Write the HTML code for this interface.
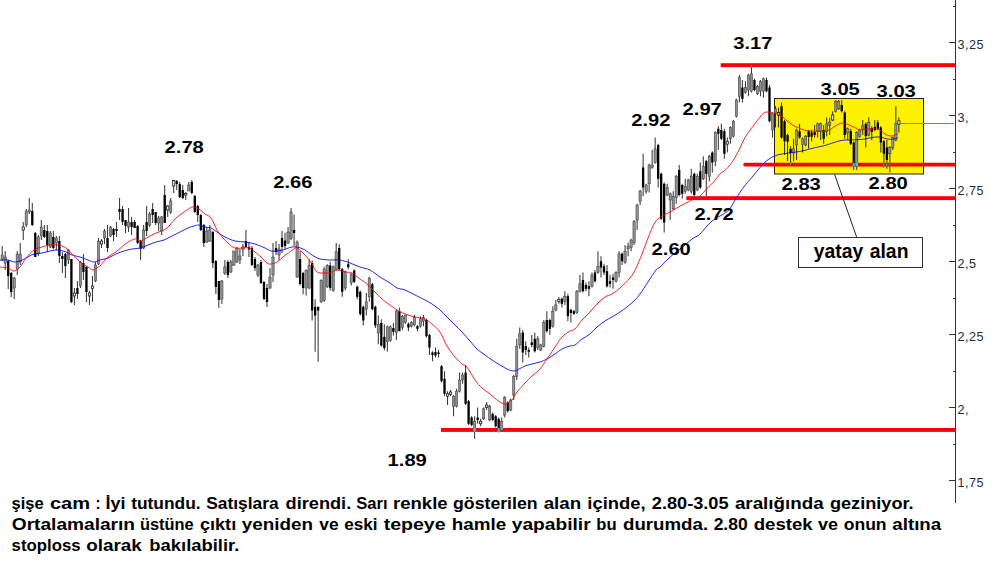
<!DOCTYPE html>
<html><head><meta charset="utf-8"><title>chart</title>
<style>
html,body{margin:0;padding:0;background:#fff;}
body{width:1000px;height:571px;overflow:hidden;position:relative;font-family:"Liberation Sans",sans-serif;}
svg{position:absolute;left:0;top:0;}
text{font-family:"Liberation Sans",sans-serif;}
.lab{font-weight:bold;font-size:16px;fill:#000;}
.ax{font-size:12.6px;fill:#1c2a44;}
.para{font-weight:bold;font-size:17px;fill:#000;}
</style></head><body>
<svg width="1000" height="571" viewBox="0 0 1000 571">
<rect width="1000" height="571" fill="#fff"/>

<g stroke="#333" stroke-width="1" shape-rendering="crispEdges">
<path d="M955.5 0V503"/>
<path d="M949 42.5H955.5"/>
<path d="M949 115.5H955.5"/>
<path d="M949 188.5H955.5"/>
<path d="M949 261.5H955.5"/>
<path d="M949 334.5H955.5"/>
<path d="M949 407.5H955.5"/>
<path d="M949 480.5H955.5"/>
<path d="M953 6.2H955.5"/>
<path d="M953 79.2H955.5"/>
<path d="M953 152.2H955.5"/>
<path d="M953 225.2H955.5"/>
<path d="M953 298.2H955.5"/>
<path d="M953 371.2H955.5"/>
<path d="M953 444.2H955.5"/>
</g>
<text class="ax" x="957.6" y="48.5" letter-spacing="0.5">3,25</text>
<text class="ax" x="957.6" y="121.5" letter-spacing="0.5">3,</text>
<text class="ax" x="957.6" y="194.5" letter-spacing="0.5">2,75</text>
<text class="ax" x="957.6" y="267.5" letter-spacing="0.5">2,5</text>
<text class="ax" x="957.6" y="340.5" letter-spacing="0.5">2,25</text>
<text class="ax" x="957.6" y="413.5" letter-spacing="0.5">2,</text>
<text class="ax" x="957.6" y="486.5" letter-spacing="0.5">1,75</text>
<rect x="774.5" y="98.5" width="149" height="75.5" fill="#fff200" stroke="#222" stroke-width="1"/>
<g fill="#ff0000">
<rect x="720.7" y="63.2" width="234.8" height="3.9"/>
<rect x="743.3" y="162.7" width="212.2" height="3.7" rx="1.5"/>
<rect x="686.3" y="196.2" width="269.2" height="3.9"/>
<rect x="441" y="428" width="514.5" height="3.9"/>
</g>
<g>
<path d="M2.2 246.0V261.0" stroke="#000" stroke-opacity="0.78" stroke-width="1.05"/>
<rect x="1.05" y="255.0" width="2.3" height="5.0" fill="#8e8e8e" stroke="#3a3a3a" stroke-width="0.5"/>
<path d="M5.21 251.0V270.0" stroke="#000" stroke-opacity="0.78" stroke-width="1.05"/>
<rect x="4.06" y="257.0" width="2.3" height="6.0" fill="#8e8e8e" stroke="#3a3a3a" stroke-width="0.5"/>
<path d="M8.22 260.0V289.0" stroke="#000" stroke-opacity="0.78" stroke-width="1.05"/>
<rect x="7.07" y="261.0" width="2.3" height="15.0" fill="#000"/>
<path d="M11.23 272.0V297.0" stroke="#000" stroke-opacity="0.78" stroke-width="1.05"/>
<rect x="10.08" y="273.0" width="2.3" height="19.0" fill="#000"/>
<path d="M14.24 277.0V299.0" stroke="#000" stroke-opacity="0.78" stroke-width="1.05"/>
<rect x="13.09" y="278.0" width="2.3" height="10.0" fill="#8e8e8e" stroke="#3a3a3a" stroke-width="0.5"/>
<path d="M17.25 251.0V275.0" stroke="#000" stroke-opacity="0.78" stroke-width="1.05"/>
<rect x="16.1" y="254.0" width="2.3" height="15.0" fill="#8e8e8e" stroke="#3a3a3a" stroke-width="0.5"/>
<path d="M20.25 243.0V265.0" stroke="#000" stroke-opacity="0.78" stroke-width="1.05"/>
<rect x="19.1" y="254.0" width="2.3" height="8.0" fill="#8e8e8e" stroke="#3a3a3a" stroke-width="0.5"/>
<path d="M23.26 222.0V240.0" stroke="#000" stroke-opacity="0.78" stroke-width="1.05"/>
<rect x="22.11" y="227.0" width="2.3" height="3.0" fill="#ddd" stroke="#111" stroke-width="0.7"/>
<path d="M26.27 209.0V227.0" stroke="#000" stroke-opacity="0.78" stroke-width="1.05"/>
<rect x="25.12" y="211.0" width="2.3" height="14.0" fill="#8e8e8e" stroke="#3a3a3a" stroke-width="0.5"/>
<path d="M29.28 198.0V214.0" stroke="#000" stroke-opacity="0.78" stroke-width="1.05"/>
<rect x="28.13" y="210.0" width="2.3" height="2.0" fill="#8e8e8e" stroke="#3a3a3a" stroke-width="0.5"/>
<path d="M32.29 203.0V226.0" stroke="#000" stroke-opacity="0.78" stroke-width="1.05"/>
<rect x="31.14" y="211.0" width="2.3" height="14.0" fill="#000"/>
<path d="M35.3 232.0V257.0" stroke="#000" stroke-opacity="0.78" stroke-width="1.05"/>
<rect x="34.15" y="233.0" width="2.3" height="24.0" fill="#000"/>
<path d="M38.31 235.0V256.0" stroke="#000" stroke-opacity="0.78" stroke-width="1.05"/>
<rect x="37.16" y="237.0" width="2.3" height="17.0" fill="#8e8e8e" stroke="#3a3a3a" stroke-width="0.5"/>
<path d="M41.32 220.0V240.0" stroke="#000" stroke-opacity="0.78" stroke-width="1.05"/>
<rect x="40.17" y="227.0" width="2.3" height="9.0" fill="#8e8e8e" stroke="#3a3a3a" stroke-width="0.5"/>
<path d="M44.33 225.0V238.0" stroke="#000" stroke-opacity="0.78" stroke-width="1.05"/>
<rect x="43.18" y="230.0" width="2.3" height="7.0" fill="#000"/>
<path d="M47.33 225.0V252.0" stroke="#000" stroke-opacity="0.78" stroke-width="1.05"/>
<rect x="46.18" y="231.0" width="2.3" height="14.0" fill="#000"/>
<path d="M50.34 231.0V248.0" stroke="#000" stroke-opacity="0.78" stroke-width="1.05"/>
<rect x="49.19" y="233.0" width="2.3" height="14.0" fill="#8e8e8e" stroke="#3a3a3a" stroke-width="0.5"/>
<path d="M53.35 231.0V249.0" stroke="#000" stroke-opacity="0.78" stroke-width="1.05"/>
<rect x="52.2" y="237.0" width="2.3" height="11.0" fill="#000"/>
<path d="M56.36 236.0V250.0" stroke="#000" stroke-opacity="0.78" stroke-width="1.05"/>
<rect x="55.21" y="238.0" width="2.3" height="5.0" fill="#8e8e8e" stroke="#3a3a3a" stroke-width="0.5"/>
<path d="M59.37 236.0V263.0" stroke="#000" stroke-opacity="0.78" stroke-width="1.05"/>
<rect x="58.22" y="241.0" width="2.3" height="15.0" fill="#000"/>
<path d="M62.38 252.0V273.0" stroke="#000" stroke-opacity="0.78" stroke-width="1.05"/>
<rect x="61.23" y="256.0" width="2.3" height="3.0" fill="#000"/>
<path d="M65.39 253.0V278.0" stroke="#000" stroke-opacity="0.78" stroke-width="1.05"/>
<rect x="64.24" y="254.0" width="2.3" height="12.0" fill="#000"/>
<path d="M68.4 249.0V264.0" stroke="#000" stroke-opacity="0.78" stroke-width="1.05"/>
<rect x="67.25" y="250.0" width="2.3" height="10.0" fill="#8e8e8e" stroke="#3a3a3a" stroke-width="0.5"/>
<path d="M71.41 259.0V303.0" stroke="#000" stroke-opacity="0.78" stroke-width="1.05"/>
<rect x="70.26" y="259.0" width="2.3" height="43.0" fill="#000"/>
<path d="M74.42 288.0V305.0" stroke="#000" stroke-opacity="0.78" stroke-width="1.05"/>
<rect x="73.27" y="293.0" width="2.3" height="3.0" fill="#ddd" stroke="#111" stroke-width="0.7"/>
<path d="M77.42 281.0V299.0" stroke="#000" stroke-opacity="0.78" stroke-width="1.05"/>
<rect x="76.27" y="288.0" width="2.3" height="6.0" fill="#000"/>
<path d="M80.43 261.0V288.0" stroke="#000" stroke-opacity="0.78" stroke-width="1.05"/>
<rect x="79.28" y="262.0" width="2.3" height="24.0" fill="#8e8e8e" stroke="#3a3a3a" stroke-width="0.5"/>
<path d="M83.44 254.0V280.0" stroke="#000" stroke-opacity="0.78" stroke-width="1.05"/>
<rect x="82.29" y="263.0" width="2.3" height="9.0" fill="#000"/>
<path d="M86.45 266.0V302.0" stroke="#000" stroke-opacity="0.78" stroke-width="1.05"/>
<rect x="85.3" y="267.0" width="2.3" height="25.0" fill="#000"/>
<path d="M89.46 291.0V305.0" stroke="#000" stroke-opacity="0.78" stroke-width="1.05"/>
<rect x="88.31" y="293.0" width="2.3" height="3.0" fill="#ddd" stroke="#111" stroke-width="0.7"/>
<path d="M92.47 276.0V302.0" stroke="#000" stroke-opacity="0.78" stroke-width="1.05"/>
<rect x="91.32" y="286.0" width="2.3" height="2.4" fill="#ddd" stroke="#111" stroke-width="0.7"/>
<path d="M95.48 262.0V282.0" stroke="#000" stroke-opacity="0.78" stroke-width="1.05"/>
<rect x="94.33" y="265.0" width="2.3" height="16.0" fill="#8e8e8e" stroke="#3a3a3a" stroke-width="0.5"/>
<path d="M98.49 238.0V265.0" stroke="#000" stroke-opacity="0.78" stroke-width="1.05"/>
<rect x="97.34" y="241.0" width="2.3" height="23.0" fill="#8e8e8e" stroke="#3a3a3a" stroke-width="0.5"/>
<path d="M101.5 239.0V248.0" stroke="#000" stroke-opacity="0.78" stroke-width="1.05"/>
<rect x="100.35" y="241.0" width="2.3" height="3.0" fill="#ddd" stroke="#111" stroke-width="0.7"/>
<path d="M104.51 229.0V244.0" stroke="#000" stroke-opacity="0.78" stroke-width="1.05"/>
<rect x="103.36" y="231.0" width="2.3" height="7.0" fill="#8e8e8e" stroke="#3a3a3a" stroke-width="0.5"/>
<path d="M107.51 225.0V252.0" stroke="#000" stroke-opacity="0.78" stroke-width="1.05"/>
<rect x="106.36" y="238.0" width="2.3" height="10.0" fill="#000"/>
<path d="M110.52 226.0V237.0" stroke="#000" stroke-opacity="0.78" stroke-width="1.05"/>
<rect x="109.37" y="227.0" width="2.3" height="9.0" fill="#8e8e8e" stroke="#3a3a3a" stroke-width="0.5"/>
<path d="M113.53 228.0V241.0" stroke="#000" stroke-opacity="0.78" stroke-width="1.05"/>
<rect x="112.38" y="229.0" width="2.3" height="6.0" fill="#000"/>
<path d="M116.54 222.0V237.0" stroke="#000" stroke-opacity="0.78" stroke-width="1.05"/>
<rect x="115.39" y="229.0" width="2.3" height="2.0" fill="#000"/>
<path d="M119.55 198.0V220.0" stroke="#000" stroke-opacity="0.78" stroke-width="1.05"/>
<rect x="118.4" y="209.0" width="2.3" height="3.0" fill="#000"/>
<path d="M122.56 206.0V225.0" stroke="#000" stroke-opacity="0.78" stroke-width="1.05"/>
<rect x="121.41" y="209.0" width="2.3" height="13.0" fill="#000"/>
<path d="M125.57 220.0V233.0" stroke="#000" stroke-opacity="0.78" stroke-width="1.05"/>
<rect x="124.42" y="220.0" width="2.3" height="6.0" fill="#000"/>
<path d="M128.58 208.0V232.0" stroke="#000" stroke-opacity="0.78" stroke-width="1.05"/>
<rect x="127.43" y="222.0" width="2.3" height="5.0" fill="#8e8e8e" stroke="#3a3a3a" stroke-width="0.5"/>
<path d="M131.59 217.0V235.0" stroke="#000" stroke-opacity="0.78" stroke-width="1.05"/>
<rect x="130.44" y="222.0" width="2.3" height="5.0" fill="#000"/>
<path d="M134.6 220.0V228.0" stroke="#000" stroke-opacity="0.78" stroke-width="1.05"/>
<rect x="133.45" y="222.0" width="2.3" height="6.0" fill="#000"/>
<path d="M137.61 225.0V244.0" stroke="#000" stroke-opacity="0.78" stroke-width="1.05"/>
<rect x="136.46" y="226.0" width="2.3" height="17.0" fill="#000"/>
<path d="M140.61 240.0V260.0" stroke="#000" stroke-opacity="0.78" stroke-width="1.05"/>
<rect x="139.46" y="241.0" width="2.3" height="8.0" fill="#000"/>
<path d="M143.62 225.0V249.0" stroke="#000" stroke-opacity="0.78" stroke-width="1.05"/>
<rect x="142.47" y="230.0" width="2.3" height="18.0" fill="#8e8e8e" stroke="#3a3a3a" stroke-width="0.5"/>
<path d="M146.63 206.0V236.0" stroke="#000" stroke-opacity="0.78" stroke-width="1.05"/>
<rect x="145.48" y="222.0" width="2.3" height="9.0" fill="#000"/>
<path d="M149.64 212.0V227.0" stroke="#000" stroke-opacity="0.78" stroke-width="1.05"/>
<rect x="148.49" y="214.0" width="2.3" height="11.0" fill="#8e8e8e" stroke="#3a3a3a" stroke-width="0.5"/>
<path d="M152.65 203.0V223.0" stroke="#000" stroke-opacity="0.78" stroke-width="1.05"/>
<rect x="151.5" y="209.0" width="2.3" height="6.0" fill="#000"/>
<path d="M155.66 212.0V225.0" stroke="#000" stroke-opacity="0.78" stroke-width="1.05"/>
<rect x="154.51" y="212.0" width="2.3" height="11.0" fill="#000"/>
<path d="M158.67 216.0V231.0" stroke="#000" stroke-opacity="0.78" stroke-width="1.05"/>
<rect x="157.52" y="218.0" width="2.3" height="5.0" fill="#8e8e8e" stroke="#3a3a3a" stroke-width="0.5"/>
<path d="M161.68 216.0V235.0" stroke="#000" stroke-opacity="0.78" stroke-width="1.05"/>
<rect x="160.53" y="217.0" width="2.3" height="14.0" fill="#8e8e8e" stroke="#3a3a3a" stroke-width="0.5"/>
<path d="M164.69 185.0V223.0" stroke="#000" stroke-opacity="0.78" stroke-width="1.05"/>
<rect x="163.54" y="195.0" width="2.3" height="28.0" fill="#000"/>
<path d="M167.7 205.0V217.0" stroke="#000" stroke-opacity="0.78" stroke-width="1.05"/>
<rect x="166.55" y="206.0" width="2.3" height="4.0" fill="#ddd" stroke="#111" stroke-width="0.7"/>
<path d="M170.7 198.0V214.0" stroke="#000" stroke-opacity="0.78" stroke-width="1.05"/>
<rect x="169.55" y="201.0" width="2.3" height="11.0" fill="#8e8e8e" stroke="#3a3a3a" stroke-width="0.5"/>
<path d="M173.71 180.0V193.0" stroke="#000" stroke-opacity="0.78" stroke-width="1.05"/>
<rect x="172.56" y="180.6" width="2.3" height="5.4" fill="#ddd" stroke="#111" stroke-width="0.7"/>
<path d="M176.72 180.0V190.0" stroke="#000" stroke-opacity="0.78" stroke-width="1.05"/>
<rect x="175.57" y="181.0" width="2.3" height="3.0" fill="#000"/>
<path d="M179.73 182.0V198.0" stroke="#000" stroke-opacity="0.78" stroke-width="1.05"/>
<rect x="178.58" y="184.0" width="2.3" height="13.0" fill="#000"/>
<path d="M182.74 185.0V199.0" stroke="#000" stroke-opacity="0.78" stroke-width="1.05"/>
<rect x="181.59" y="190.0" width="2.3" height="8.0" fill="#000"/>
<path d="M185.75 192.0V200.0" stroke="#000" stroke-opacity="0.78" stroke-width="1.05"/>
<rect x="184.6" y="193.4" width="2.3" height="1.6" fill="#ddd" stroke="#111" stroke-width="0.7"/>
<path d="M188.76 182.0V191.0" stroke="#000" stroke-opacity="0.78" stroke-width="1.05"/>
<rect x="187.61" y="185.0" width="2.3" height="6.0" fill="#8e8e8e" stroke="#3a3a3a" stroke-width="0.5"/>
<path d="M191.77 180.0V194.0" stroke="#000" stroke-opacity="0.78" stroke-width="1.05"/>
<rect x="190.62" y="182.0" width="2.3" height="11.0" fill="#000"/>
<path d="M194.78 195.0V213.0" stroke="#000" stroke-opacity="0.78" stroke-width="1.05"/>
<rect x="193.63" y="196.0" width="2.3" height="16.0" fill="#000"/>
<path d="M197.78 205.0V222.0" stroke="#000" stroke-opacity="0.78" stroke-width="1.05"/>
<rect x="196.63" y="206.0" width="2.3" height="9.0" fill="#000"/>
<path d="M200.79 214.0V231.0" stroke="#000" stroke-opacity="0.78" stroke-width="1.05"/>
<rect x="199.64" y="215.0" width="2.3" height="15.0" fill="#000"/>
<path d="M203.8 224.0V247.0" stroke="#000" stroke-opacity="0.78" stroke-width="1.05"/>
<rect x="202.65" y="225.0" width="2.3" height="18.0" fill="#000"/>
<path d="M206.81 227.0V243.0" stroke="#000" stroke-opacity="0.78" stroke-width="1.05"/>
<rect x="205.66" y="231.0" width="2.3" height="11.0" fill="#8e8e8e" stroke="#3a3a3a" stroke-width="0.5"/>
<path d="M209.82 225.0V242.0" stroke="#000" stroke-opacity="0.78" stroke-width="1.05"/>
<rect x="208.67" y="230.0" width="2.3" height="11.0" fill="#8e8e8e" stroke="#3a3a3a" stroke-width="0.5"/>
<path d="M212.83 231.0V268.0" stroke="#000" stroke-opacity="0.78" stroke-width="1.05"/>
<rect x="211.68" y="232.0" width="2.3" height="31.0" fill="#000"/>
<path d="M215.84 260.0V294.0" stroke="#000" stroke-opacity="0.78" stroke-width="1.05"/>
<rect x="214.69" y="261.0" width="2.3" height="26.0" fill="#000"/>
<path d="M218.85 281.0V308.0" stroke="#000" stroke-opacity="0.78" stroke-width="1.05"/>
<rect x="217.7" y="281.0" width="2.3" height="19.0" fill="#000"/>
<path d="M221.86 280.0V304.0" stroke="#000" stroke-opacity="0.78" stroke-width="1.05"/>
<rect x="220.71" y="281.0" width="2.3" height="18.0" fill="#8e8e8e" stroke="#3a3a3a" stroke-width="0.5"/>
<path d="M224.87 260.0V275.0" stroke="#000" stroke-opacity="0.78" stroke-width="1.05"/>
<rect x="223.72" y="267.0" width="2.3" height="6.0" fill="#8e8e8e" stroke="#3a3a3a" stroke-width="0.5"/>
<path d="M227.87 260.0V278.0" stroke="#000" stroke-opacity="0.78" stroke-width="1.05"/>
<rect x="226.72" y="262.0" width="2.3" height="13.0" fill="#000"/>
<path d="M230.88 260.0V273.0" stroke="#000" stroke-opacity="0.78" stroke-width="1.05"/>
<rect x="229.73" y="262.0" width="2.3" height="10.0" fill="#8e8e8e" stroke="#3a3a3a" stroke-width="0.5"/>
<path d="M233.89 251.0V266.0" stroke="#000" stroke-opacity="0.78" stroke-width="1.05"/>
<rect x="232.74" y="251.0" width="2.3" height="14.0" fill="#8e8e8e" stroke="#3a3a3a" stroke-width="0.5"/>
<path d="M236.9 247.0V263.0" stroke="#000" stroke-opacity="0.78" stroke-width="1.05"/>
<rect x="235.75" y="248.0" width="2.3" height="14.0" fill="#8e8e8e" stroke="#3a3a3a" stroke-width="0.5"/>
<path d="M239.91 249.0V264.0" stroke="#000" stroke-opacity="0.78" stroke-width="1.05"/>
<rect x="238.76" y="256.0" width="2.3" height="4.0" fill="#8e8e8e" stroke="#3a3a3a" stroke-width="0.5"/>
<path d="M242.92 244.0V256.0" stroke="#000" stroke-opacity="0.78" stroke-width="1.05"/>
<rect x="241.77" y="247.0" width="2.3" height="2.0" fill="#ddd" stroke="#111" stroke-width="0.7"/>
<path d="M245.93 230.0V248.0" stroke="#000" stroke-opacity="0.78" stroke-width="1.05"/>
<rect x="244.78" y="241.0" width="2.3" height="6.0" fill="#000"/>
<path d="M248.94 242.0V257.0" stroke="#000" stroke-opacity="0.78" stroke-width="1.05"/>
<rect x="247.79" y="247.0" width="2.3" height="2.4" fill="#000"/>
<path d="M251.95 246.0V266.0" stroke="#000" stroke-opacity="0.78" stroke-width="1.05"/>
<rect x="250.8" y="248.0" width="2.3" height="17.0" fill="#000"/>
<path d="M254.96 257.0V271.0" stroke="#000" stroke-opacity="0.78" stroke-width="1.05"/>
<rect x="253.81" y="259.0" width="2.3" height="9.0" fill="#000"/>
<path d="M257.96 264.0V277.0" stroke="#000" stroke-opacity="0.78" stroke-width="1.05"/>
<rect x="256.81" y="265.0" width="2.3" height="10.0" fill="#8e8e8e" stroke="#3a3a3a" stroke-width="0.5"/>
<path d="M260.97 260.0V284.0" stroke="#000" stroke-opacity="0.78" stroke-width="1.05"/>
<rect x="259.82" y="262.0" width="2.3" height="21.0" fill="#000"/>
<path d="M263.98 281.0V300.0" stroke="#000" stroke-opacity="0.78" stroke-width="1.05"/>
<rect x="262.83" y="282.0" width="2.3" height="17.0" fill="#000"/>
<path d="M266.99 284.0V307.0" stroke="#000" stroke-opacity="0.78" stroke-width="1.05"/>
<rect x="265.84" y="288.0" width="2.3" height="14.0" fill="#000"/>
<path d="M270.0 268.0V289.0" stroke="#000" stroke-opacity="0.78" stroke-width="1.05"/>
<rect x="268.85" y="277.0" width="2.3" height="11.0" fill="#8e8e8e" stroke="#3a3a3a" stroke-width="0.5"/>
<path d="M273.01 243.0V282.0" stroke="#000" stroke-opacity="0.78" stroke-width="1.05"/>
<rect x="271.86" y="257.0" width="2.3" height="18.0" fill="#8e8e8e" stroke="#3a3a3a" stroke-width="0.5"/>
<path d="M276.02 241.0V255.0" stroke="#000" stroke-opacity="0.78" stroke-width="1.05"/>
<rect x="274.87" y="248.0" width="2.3" height="4.0" fill="#000"/>
<path d="M279.03 244.0V260.0" stroke="#000" stroke-opacity="0.78" stroke-width="1.05"/>
<rect x="277.88" y="249.0" width="2.3" height="6.0" fill="#8e8e8e" stroke="#3a3a3a" stroke-width="0.5"/>
<path d="M282.04 231.0V253.0" stroke="#000" stroke-opacity="0.78" stroke-width="1.05"/>
<rect x="280.89" y="238.0" width="2.3" height="9.0" fill="#000"/>
<path d="M285.05 232.8V249" stroke="#000" stroke-opacity="0.78" stroke-width="1.05"/>
<rect x="283.9" y="240.5" width="2.3" height="5.5" fill="#000"/>
<path d="M288.06 227V244" stroke="#000" stroke-opacity="0.78" stroke-width="1.05"/>
<rect x="286.91" y="232" width="2.3" height="11" fill="#8e8e8e" stroke="#3a3a3a" stroke-width="0.5"/>
<path d="M291.06 208V240" stroke="#000" stroke-opacity="0.78" stroke-width="1.05"/>
<rect x="289.91" y="212" width="2.3" height="26.5" fill="#8e8e8e" stroke="#3a3a3a" stroke-width="0.5"/>
<path d="M294.07 214.6V246" stroke="#000" stroke-opacity="0.78" stroke-width="1.05"/>
<rect x="292.92" y="230" width="2.3" height="3" fill="#000"/>
<path d="M297.08 240.5V278" stroke="#000" stroke-opacity="0.78" stroke-width="1.05"/>
<rect x="295.93" y="242" width="2.3" height="35" fill="#8e8e8e" stroke="#3a3a3a" stroke-width="0.5"/>
<path d="M300.09 251V285.5" stroke="#000" stroke-opacity="0.78" stroke-width="1.05"/>
<rect x="298.94" y="259" width="2.3" height="25" fill="#000"/>
<path d="M303.1 271.8V294.2" stroke="#000" stroke-opacity="0.78" stroke-width="1.05"/>
<rect x="301.95" y="273.0" width="2.3" height="15.0" fill="#000"/>
<path d="M306.11 269.2V295.5" stroke="#000" stroke-opacity="0.78" stroke-width="1.05"/>
<rect x="304.96" y="270.5" width="2.3" height="17.5" fill="#8e8e8e" stroke="#3a3a3a" stroke-width="0.5"/>
<path d="M309.12 259.2V289.2" stroke="#000" stroke-opacity="0.78" stroke-width="1.05"/>
<rect x="307.97" y="265.5" width="2.3" height="22.5" fill="#8e8e8e" stroke="#3a3a3a" stroke-width="0.5"/>
<path d="M312.13 260.5V320.5" stroke="#000" stroke-opacity="0.78" stroke-width="1.05"/>
<rect x="310.98" y="263.0" width="2.3" height="47.5" fill="#000"/>
<path d="M315.14 299.2V351.8" stroke="#000" stroke-opacity="0.78" stroke-width="1.05"/>
<rect x="313.99" y="306.8" width="2.3" height="8.7" fill="#000"/>
<path d="M318.14 306.8V361.8" stroke="#000" stroke-opacity="0.78" stroke-width="1.05"/>
<rect x="316.99" y="306.8" width="2.3" height="3.7" fill="#000"/>
<path d="M321.15 279.2V303.0" stroke="#000" stroke-opacity="0.78" stroke-width="1.05"/>
<rect x="320.0" y="280.5" width="2.3" height="21.3" fill="#8e8e8e" stroke="#3a3a3a" stroke-width="0.5"/>
<path d="M324.16 266.8V301.8" stroke="#000" stroke-opacity="0.78" stroke-width="1.05"/>
<rect x="323.01" y="269.2" width="2.3" height="31.3" fill="#8e8e8e" stroke="#3a3a3a" stroke-width="0.5"/>
<path d="M327.17 264.2V288.0" stroke="#000" stroke-opacity="0.78" stroke-width="1.05"/>
<rect x="326.02" y="265.5" width="2.3" height="21.3" fill="#8e8e8e" stroke="#3a3a3a" stroke-width="0.5"/>
<path d="M330.18 261.8V290.5" stroke="#000" stroke-opacity="0.78" stroke-width="1.05"/>
<rect x="329.03" y="265.5" width="2.3" height="22.5" fill="#000"/>
<path d="M333.19 265.5V291.8" stroke="#000" stroke-opacity="0.78" stroke-width="1.05"/>
<rect x="332.04" y="266.8" width="2.3" height="23.7" fill="#8e8e8e" stroke="#3a3a3a" stroke-width="0.5"/>
<path d="M336.2 243.0V270.5" stroke="#000" stroke-opacity="0.78" stroke-width="1.05"/>
<rect x="335.05" y="251.8" width="2.3" height="17.4" fill="#8e8e8e" stroke="#3a3a3a" stroke-width="0.5"/>
<path d="M339.21 244.2V270.5" stroke="#000" stroke-opacity="0.78" stroke-width="1.05"/>
<rect x="338.06" y="248.0" width="2.3" height="21.2" fill="#000"/>
<path d="M342.22 268.0V296.8" stroke="#000" stroke-opacity="0.78" stroke-width="1.05"/>
<rect x="341.07" y="269.2" width="2.3" height="22.6" fill="#000"/>
<path d="M345.23 270.5V290.5" stroke="#000" stroke-opacity="0.78" stroke-width="1.05"/>
<rect x="344.08" y="271.8" width="2.3" height="16.2" fill="#8e8e8e" stroke="#3a3a3a" stroke-width="0.5"/>
<path d="M348.23 259.2V269.2" stroke="#000" stroke-opacity="0.78" stroke-width="1.05"/>
<rect x="347.08" y="264.2" width="2.3" height="3.0" fill="#000"/>
<path d="M351.24 273.0V285.5" stroke="#000" stroke-opacity="0.78" stroke-width="1.05"/>
<rect x="350.09" y="274.2" width="2.3" height="8.8" fill="#8e8e8e" stroke="#3a3a3a" stroke-width="0.5"/>
<path d="M354.25 269.2V283.0" stroke="#000" stroke-opacity="0.78" stroke-width="1.05"/>
<rect x="353.1" y="270.5" width="2.3" height="11.3" fill="#000"/>
<path d="M357.26 285.5V299.2" stroke="#000" stroke-opacity="0.78" stroke-width="1.05"/>
<rect x="356.11" y="286.8" width="2.3" height="10.0" fill="#000"/>
<path d="M360.27 290.5V315.5" stroke="#000" stroke-opacity="0.78" stroke-width="1.05"/>
<rect x="359.12" y="291.8" width="2.3" height="22.4" fill="#000"/>
<path d="M363.28 305.5V325.5" stroke="#000" stroke-opacity="0.78" stroke-width="1.05"/>
<rect x="362.13" y="306.8" width="2.3" height="13.7" fill="#000"/>
<path d="M366.29 293.0V315.5" stroke="#000" stroke-opacity="0.78" stroke-width="1.05"/>
<rect x="365.14" y="301.8" width="2.3" height="7.4" fill="#8e8e8e" stroke="#3a3a3a" stroke-width="0.5"/>
<path d="M369.3 276.8V301.8" stroke="#000" stroke-opacity="0.78" stroke-width="1.05"/>
<rect x="368.15" y="278.0" width="2.3" height="18.8" fill="#8e8e8e" stroke="#3a3a3a" stroke-width="0.5"/>
<path d="M372.31 283.0V310.5" stroke="#000" stroke-opacity="0.78" stroke-width="1.05"/>
<rect x="371.16" y="284.2" width="2.3" height="25.0" fill="#000"/>
<path d="M375.32 305.5V328.0" stroke="#000" stroke-opacity="0.78" stroke-width="1.05"/>
<rect x="374.17" y="306.8" width="2.3" height="18.7" fill="#000"/>
<path d="M378.32 315.5V344.2" stroke="#000" stroke-opacity="0.78" stroke-width="1.05"/>
<rect x="377.17" y="324.2" width="2.3" height="8.8" fill="#8e8e8e" stroke="#3a3a3a" stroke-width="0.5"/>
<path d="M381.33 319.2V346.8" stroke="#000" stroke-opacity="0.78" stroke-width="1.05"/>
<rect x="380.18" y="323.0" width="2.3" height="22.5" fill="#000"/>
<path d="M384.34 324.2V350.5" stroke="#000" stroke-opacity="0.78" stroke-width="1.05"/>
<rect x="383.19" y="336.8" width="2.3" height="11.2" fill="#000"/>
<path d="M387.35 325.5V351.8" stroke="#000" stroke-opacity="0.78" stroke-width="1.05"/>
<rect x="386.2" y="326.8" width="2.3" height="15.0" fill="#8e8e8e" stroke="#3a3a3a" stroke-width="0.5"/>
<path d="M390.36 325.5V341.8" stroke="#000" stroke-opacity="0.78" stroke-width="1.05"/>
<rect x="389.21" y="326.8" width="2.3" height="13.7" fill="#8e8e8e" stroke="#3a3a3a" stroke-width="0.5"/>
<path d="M393.37 323.0V335.5" stroke="#000" stroke-opacity="0.78" stroke-width="1.05"/>
<rect x="392.22" y="328.0" width="2.3" height="3.8" fill="#000"/>
<path d="M396.38 310.0V340.0" stroke="#000" stroke-opacity="0.78" stroke-width="1.05"/>
<rect x="395.23" y="311.2" width="2.3" height="21.3" fill="#8e8e8e" stroke="#3a3a3a" stroke-width="0.5"/>
<path d="M399.39 307.5V331.2" stroke="#000" stroke-opacity="0.78" stroke-width="1.05"/>
<rect x="398.24" y="311.2" width="2.3" height="20.0" fill="#000"/>
<path d="M402.4 315.0V330.0" stroke="#000" stroke-opacity="0.78" stroke-width="1.05"/>
<rect x="401.25" y="316.2" width="2.3" height="11.3" fill="#8e8e8e" stroke="#3a3a3a" stroke-width="0.5"/>
<path d="M405.41 315.0V323.8" stroke="#000" stroke-opacity="0.78" stroke-width="1.05"/>
<rect x="404.26" y="315.0" width="2.3" height="7.5" fill="#8e8e8e" stroke="#3a3a3a" stroke-width="0.5"/>
<path d="M408.41 322.5V331.2" stroke="#000" stroke-opacity="0.78" stroke-width="1.05"/>
<rect x="407.26" y="323.8" width="2.3" height="3.7" fill="#000"/>
<path d="M411.42 321.2V327.5" stroke="#000" stroke-opacity="0.78" stroke-width="1.05"/>
<rect x="410.27" y="322.5" width="2.3" height="3.7" fill="#8e8e8e" stroke="#3a3a3a" stroke-width="0.5"/>
<path d="M414.43 315.0V326.2" stroke="#000" stroke-opacity="0.78" stroke-width="1.05"/>
<rect x="413.28" y="317.5" width="2.3" height="7.5" fill="#8e8e8e" stroke="#3a3a3a" stroke-width="0.5"/>
<path d="M417.44 325.0V331.2" stroke="#000" stroke-opacity="0.78" stroke-width="1.05"/>
<rect x="416.29" y="326.2" width="2.3" height="2.6" fill="#000"/>
<path d="M420.45 316.2V327.5" stroke="#000" stroke-opacity="0.78" stroke-width="1.05"/>
<rect x="419.3" y="318.8" width="2.3" height="7.4" fill="#8e8e8e" stroke="#3a3a3a" stroke-width="0.5"/>
<path d="M423.46 315.0V326.2" stroke="#000" stroke-opacity="0.78" stroke-width="1.05"/>
<rect x="422.31" y="317.5" width="2.3" height="3.7" fill="#8e8e8e" stroke="#3a3a3a" stroke-width="0.5"/>
<path d="M426.47 318.8V337.5" stroke="#000" stroke-opacity="0.78" stroke-width="1.05"/>
<rect x="425.32" y="320.0" width="2.3" height="16.2" fill="#000"/>
<path d="M429.48 333.8V355.0" stroke="#000" stroke-opacity="0.78" stroke-width="1.05"/>
<rect x="428.33" y="335.0" width="2.3" height="12.5" fill="#000"/>
<path d="M432.49 351.2V361.2" stroke="#000" stroke-opacity="0.78" stroke-width="1.05"/>
<rect x="431.34" y="352.5" width="2.3" height="2.5" fill="#000"/>
<path d="M435.5 347.5V357.5" stroke="#000" stroke-opacity="0.78" stroke-width="1.05"/>
<rect x="434.35" y="352.0" width="2.3" height="3.5" fill="#000"/>
<path d="M438.51 350.0V357.5" stroke="#000" stroke-opacity="0.78" stroke-width="1.05"/>
<rect x="437.36" y="352.5" width="2.3" height="1.5" fill="#000"/>
<path d="M441.51 365.0V382.5" stroke="#000" stroke-opacity="0.78" stroke-width="1.05"/>
<rect x="440.36" y="366.2" width="2.3" height="15.0" fill="#000"/>
<path d="M444.52 371.2V396.2" stroke="#000" stroke-opacity="0.78" stroke-width="1.05"/>
<rect x="443.37" y="378.8" width="2.3" height="15.0" fill="#000"/>
<path d="M447.53 391.2V405.0" stroke="#000" stroke-opacity="0.78" stroke-width="1.05"/>
<rect x="446.38" y="393.8" width="2.3" height="2.4" fill="#ddd" stroke="#111" stroke-width="0.7"/>
<path d="M450.54 390.0V396.2" stroke="#000" stroke-opacity="0.78" stroke-width="1.05"/>
<rect x="449.39" y="392.0" width="2.3" height="2.5" fill="#ddd" stroke="#111" stroke-width="0.7"/>
<path d="M453.55 395.0V416.2" stroke="#000" stroke-opacity="0.78" stroke-width="1.05"/>
<rect x="452.4" y="396.2" width="2.3" height="10.0" fill="#8e8e8e" stroke="#3a3a3a" stroke-width="0.5"/>
<path d="M456.56 388.8V407.5" stroke="#000" stroke-opacity="0.78" stroke-width="1.05"/>
<rect x="455.41" y="391.2" width="2.3" height="15.0" fill="#8e8e8e" stroke="#3a3a3a" stroke-width="0.5"/>
<path d="M459.57 372.5V392.5" stroke="#000" stroke-opacity="0.78" stroke-width="1.05"/>
<rect x="458.42" y="380.0" width="2.3" height="11.2" fill="#8e8e8e" stroke="#3a3a3a" stroke-width="0.5"/>
<path d="M462.58 372.5V383.8" stroke="#000" stroke-opacity="0.78" stroke-width="1.05"/>
<rect x="461.43" y="375.0" width="2.3" height="5.0" fill="#8e8e8e" stroke="#3a3a3a" stroke-width="0.5"/>
<path d="M465.59 365.0V405.0" stroke="#000" stroke-opacity="0.78" stroke-width="1.05"/>
<rect x="464.44" y="372.5" width="2.3" height="31.3" fill="#000"/>
<path d="M468.59 400.0V425.0" stroke="#000" stroke-opacity="0.78" stroke-width="1.05"/>
<rect x="467.44" y="401.2" width="2.3" height="22.6" fill="#000"/>
<path d="M471.6 416.2V426.2" stroke="#000" stroke-opacity="0.78" stroke-width="1.05"/>
<rect x="470.45" y="417.5" width="2.3" height="7.5" fill="#000"/>
<path d="M474.61 416.2V438.8" stroke="#000" stroke-opacity="0.78" stroke-width="1.05"/>
<rect x="473.46" y="421.2" width="2.3" height="10.0" fill="#8e8e8e" stroke="#3a3a3a" stroke-width="0.5"/>
<path d="M477.62 407.5V423.8" stroke="#000" stroke-opacity="0.78" stroke-width="1.05"/>
<rect x="476.47" y="417.5" width="2.3" height="2.5" fill="#000"/>
<path d="M480.63 418.8V426.2" stroke="#000" stroke-opacity="0.78" stroke-width="1.05"/>
<rect x="479.48" y="421.2" width="2.3" height="2.6" fill="#ddd" stroke="#111" stroke-width="0.7"/>
<path d="M483.64 407.5V420.0" stroke="#000" stroke-opacity="0.78" stroke-width="1.05"/>
<rect x="482.49" y="408.8" width="2.3" height="10.0" fill="#8e8e8e" stroke="#3a3a3a" stroke-width="0.5"/>
<path d="M486.65 402.0V410.0" stroke="#000" stroke-opacity="0.78" stroke-width="1.05"/>
<rect x="485.5" y="405.0" width="2.3" height="2.5" fill="#ddd" stroke="#111" stroke-width="0.7"/>
<path d="M489.66 405.0V421.2" stroke="#000" stroke-opacity="0.78" stroke-width="1.05"/>
<rect x="488.51" y="406.2" width="2.3" height="13.8" fill="#8e8e8e" stroke="#3a3a3a" stroke-width="0.5"/>
<path d="M492.67 412.5V421.2" stroke="#000" stroke-opacity="0.78" stroke-width="1.05"/>
<rect x="491.52" y="413.8" width="2.3" height="6.2" fill="#000"/>
<path d="M495.68 415.0V427.5" stroke="#000" stroke-opacity="0.78" stroke-width="1.05"/>
<rect x="494.53" y="416.2" width="2.3" height="10.0" fill="#000"/>
<path d="M498.68 417.5V432.5" stroke="#000" stroke-opacity="0.78" stroke-width="1.05"/>
<rect x="497.53" y="418.8" width="2.3" height="11.2" fill="#000"/>
<path d="M501.69 417.5V430.0" stroke="#000" stroke-opacity="0.78" stroke-width="1.05"/>
<rect x="500.54" y="421.2" width="2.3" height="7.6" fill="#8e8e8e" stroke="#3a3a3a" stroke-width="0.5"/>
<path d="M504.7 396.2V417.5" stroke="#000" stroke-opacity="0.78" stroke-width="1.05"/>
<rect x="503.55" y="397.5" width="2.3" height="17.5" fill="#8e8e8e" stroke="#3a3a3a" stroke-width="0.5"/>
<path d="M507.71 401.2V412.5" stroke="#000" stroke-opacity="0.78" stroke-width="1.05"/>
<rect x="506.56" y="402.5" width="2.3" height="8.7" fill="#000"/>
<path d="M510.72 398.8V411.2" stroke="#000" stroke-opacity="0.78" stroke-width="1.05"/>
<rect x="509.57" y="400.0" width="2.3" height="10.0" fill="#8e8e8e" stroke="#3a3a3a" stroke-width="0.5"/>
<path d="M513.73 375.0V400.0" stroke="#000" stroke-opacity="0.78" stroke-width="1.05"/>
<rect x="512.58" y="376.2" width="2.3" height="18.8" fill="#8e8e8e" stroke="#3a3a3a" stroke-width="0.5"/>
<path d="M516.74 338.8V380.0" stroke="#000" stroke-opacity="0.78" stroke-width="1.05"/>
<rect x="515.59" y="346.2" width="2.3" height="30.0" fill="#8e8e8e" stroke="#3a3a3a" stroke-width="0.5"/>
<path d="M519.75 327.5V348.8" stroke="#000" stroke-opacity="0.78" stroke-width="1.05"/>
<rect x="518.6" y="333.8" width="2.3" height="11.2" fill="#8e8e8e" stroke="#3a3a3a" stroke-width="0.5"/>
<path d="M522.76 330.0V362.5" stroke="#000" stroke-opacity="0.78" stroke-width="1.05"/>
<rect x="521.61" y="332.5" width="2.3" height="20.0" fill="#000"/>
<path d="M525.77 341.2V355.0" stroke="#000" stroke-opacity="0.78" stroke-width="1.05"/>
<rect x="524.62" y="346.2" width="2.3" height="3.8" fill="#000"/>
<path d="M528.77 347.5V357.5" stroke="#000" stroke-opacity="0.78" stroke-width="1.05"/>
<rect x="527.62" y="350.0" width="2.3" height="1.8" fill="#000"/>
<path d="M531.78 335.0V347.5" stroke="#000" stroke-opacity="0.78" stroke-width="1.05"/>
<rect x="530.63" y="342.5" width="2.3" height="2.5" fill="#000"/>
<path d="M534.79 332.5V352.5" stroke="#000" stroke-opacity="0.78" stroke-width="1.05"/>
<rect x="533.64" y="338.8" width="2.3" height="12.4" fill="#000"/>
<path d="M537.8 336.2V350.0" stroke="#000" stroke-opacity="0.78" stroke-width="1.05"/>
<rect x="536.65" y="338.8" width="2.3" height="8.7" fill="#8e8e8e" stroke="#3a3a3a" stroke-width="0.5"/>
<path d="M540.81 343.8V351.2" stroke="#000" stroke-opacity="0.78" stroke-width="1.05"/>
<rect x="539.66" y="345.0" width="2.3" height="5.0" fill="#8e8e8e" stroke="#3a3a3a" stroke-width="0.5"/>
<path d="M543.82 320.0V347.5" stroke="#000" stroke-opacity="0.78" stroke-width="1.05"/>
<rect x="542.67" y="322.5" width="2.3" height="23.7" fill="#8e8e8e" stroke="#3a3a3a" stroke-width="0.5"/>
<path d="M546.83 311.2V332.5" stroke="#000" stroke-opacity="0.78" stroke-width="1.05"/>
<rect x="545.68" y="320.0" width="2.3" height="11.2" fill="#000"/>
<path d="M549.84 318.8V335.0" stroke="#000" stroke-opacity="0.78" stroke-width="1.05"/>
<rect x="548.69" y="320.0" width="2.3" height="8.8" fill="#000"/>
<path d="M552.85 306.2V327.5" stroke="#000" stroke-opacity="0.78" stroke-width="1.05"/>
<rect x="551.7" y="311.2" width="2.3" height="15.0" fill="#8e8e8e" stroke="#3a3a3a" stroke-width="0.5"/>
<path d="M555.86 300.0V311.2" stroke="#000" stroke-opacity="0.78" stroke-width="1.05"/>
<rect x="554.71" y="305.0" width="2.3" height="5.0" fill="#8e8e8e" stroke="#3a3a3a" stroke-width="0.5"/>
<path d="M558.86 297.0V303.8" stroke="#000" stroke-opacity="0.78" stroke-width="1.05"/>
<rect x="557.71" y="299.5" width="2.3" height="2.0" fill="#ddd" stroke="#111" stroke-width="0.7"/>
<path d="M561.87 297.5V307.5" stroke="#000" stroke-opacity="0.78" stroke-width="1.05"/>
<rect x="560.72" y="298.8" width="2.3" height="5.0" fill="#000"/>
<path d="M564.88 291.2V305.0" stroke="#000" stroke-opacity="0.78" stroke-width="1.05"/>
<rect x="563.73" y="296.2" width="2.3" height="5.0" fill="#8e8e8e" stroke="#3a3a3a" stroke-width="0.5"/>
<path d="M567.89 293.8V321.2" stroke="#000" stroke-opacity="0.78" stroke-width="1.05"/>
<rect x="566.74" y="296.2" width="2.3" height="20.0" fill="#000"/>
<path d="M570.9 308.8V322.5" stroke="#000" stroke-opacity="0.78" stroke-width="1.05"/>
<rect x="569.75" y="310.0" width="2.3" height="3.0" fill="#000"/>
<path d="M573.91 310.0V315.0" stroke="#000" stroke-opacity="0.78" stroke-width="1.05"/>
<rect x="572.76" y="311.2" width="2.3" height="2.6" fill="#000"/>
<path d="M576.92 290.0V313.8" stroke="#000" stroke-opacity="0.78" stroke-width="1.05"/>
<rect x="575.77" y="291.2" width="2.3" height="21.3" fill="#8e8e8e" stroke="#3a3a3a" stroke-width="0.5"/>
<path d="M579.93 275.0V292.5" stroke="#000" stroke-opacity="0.78" stroke-width="1.05"/>
<rect x="578.78" y="283.8" width="2.3" height="7.4" fill="#8e8e8e" stroke="#3a3a3a" stroke-width="0.5"/>
<path d="M582.94 272.5V292.5" stroke="#000" stroke-opacity="0.78" stroke-width="1.05"/>
<rect x="581.79" y="280.0" width="2.3" height="11.2" fill="#000"/>
<path d="M585.95 282.5V291.2" stroke="#000" stroke-opacity="0.78" stroke-width="1.05"/>
<rect x="584.8" y="285.0" width="2.3" height="3.8" fill="#000"/>
<path d="M588.95 281.2V296.2" stroke="#000" stroke-opacity="0.78" stroke-width="1.05"/>
<rect x="587.8" y="286.2" width="2.3" height="2.6" fill="#000"/>
<path d="M591.96 272.5V287.5" stroke="#000" stroke-opacity="0.78" stroke-width="1.05"/>
<rect x="590.81" y="275.0" width="2.3" height="11.2" fill="#8e8e8e" stroke="#3a3a3a" stroke-width="0.5"/>
<path d="M594.97 270.0V282.5" stroke="#000" stroke-opacity="0.78" stroke-width="1.05"/>
<rect x="593.82" y="272.5" width="2.3" height="8.7" fill="#000"/>
<path d="M597.98 251.2V273.8" stroke="#000" stroke-opacity="0.78" stroke-width="1.05"/>
<rect x="596.83" y="266.2" width="2.3" height="6.3" fill="#8e8e8e" stroke="#3a3a3a" stroke-width="0.5"/>
<path d="M600.99 256.2V277.5" stroke="#000" stroke-opacity="0.78" stroke-width="1.05"/>
<rect x="599.84" y="261.2" width="2.3" height="6.3" fill="#000"/>
<path d="M604.0 263.8V275.0" stroke="#000" stroke-opacity="0.78" stroke-width="1.05"/>
<rect x="602.85" y="266.2" width="2.3" height="6.3" fill="#000"/>
<path d="M607.01 265.0V287.5" stroke="#000" stroke-opacity="0.78" stroke-width="1.05"/>
<rect x="605.86" y="271.2" width="2.3" height="15.0" fill="#000"/>
<path d="M610.02 275.0V287.5" stroke="#000" stroke-opacity="0.78" stroke-width="1.05"/>
<rect x="608.87" y="281.2" width="2.3" height="2.6" fill="#000"/>
<path d="M613.03 273.8V288.8" stroke="#000" stroke-opacity="0.78" stroke-width="1.05"/>
<rect x="611.88" y="277.5" width="2.3" height="2.5" fill="#000"/>
<path d="M616.04 271.2V282.5" stroke="#000" stroke-opacity="0.78" stroke-width="1.05"/>
<rect x="614.89" y="272.5" width="2.3" height="8.7" fill="#8e8e8e" stroke="#3a3a3a" stroke-width="0.5"/>
<path d="M619.05 251.2V277.5" stroke="#000" stroke-opacity="0.78" stroke-width="1.05"/>
<rect x="617.9" y="253.8" width="2.3" height="18.7" fill="#8e8e8e" stroke="#3a3a3a" stroke-width="0.5"/>
<path d="M622.05 252.5V265.0" stroke="#000" stroke-opacity="0.78" stroke-width="1.05"/>
<rect x="620.9" y="253.8" width="2.3" height="7.4" fill="#000"/>
<path d="M625.06 245.0V263.8" stroke="#000" stroke-opacity="0.78" stroke-width="1.05"/>
<rect x="623.91" y="251.2" width="2.3" height="11.3" fill="#8e8e8e" stroke="#3a3a3a" stroke-width="0.5"/>
<path d="M628.07 242.5V256.2" stroke="#000" stroke-opacity="0.78" stroke-width="1.05"/>
<rect x="626.92" y="246.2" width="2.3" height="2.6" fill="#8e8e8e" stroke="#3a3a3a" stroke-width="0.5"/>
<path d="M631.08 238.8V251.2" stroke="#000" stroke-opacity="0.78" stroke-width="1.05"/>
<rect x="629.93" y="240.0" width="2.3" height="7.5" fill="#8e8e8e" stroke="#3a3a3a" stroke-width="0.5"/>
<path d="M634.09 220.0V245.0" stroke="#000" stroke-opacity="0.78" stroke-width="1.05"/>
<rect x="632.94" y="221.2" width="2.3" height="21.3" fill="#8e8e8e" stroke="#3a3a3a" stroke-width="0.5"/>
<path d="M637.1 203.8V230.0" stroke="#000" stroke-opacity="0.78" stroke-width="1.05"/>
<rect x="635.95" y="205.0" width="2.3" height="15.0" fill="#8e8e8e" stroke="#3a3a3a" stroke-width="0.5"/>
<path d="M640.11 190.0V205.0" stroke="#000" stroke-opacity="0.78" stroke-width="1.05"/>
<rect x="638.96" y="191.2" width="2.3" height="10.0" fill="#8e8e8e" stroke="#3a3a3a" stroke-width="0.5"/>
<path d="M643.12 153.8V196.2" stroke="#000" stroke-opacity="0.78" stroke-width="1.05"/>
<rect x="641.97" y="167.5" width="2.3" height="20.0" fill="#000"/>
<path d="M646.13 183.8V193.8" stroke="#000" stroke-opacity="0.78" stroke-width="1.05"/>
<rect x="644.98" y="185.0" width="2.3" height="6.2" fill="#8e8e8e" stroke="#3a3a3a" stroke-width="0.5"/>
<path d="M649.13 163.8V192.5" stroke="#000" stroke-opacity="0.78" stroke-width="1.05"/>
<rect x="647.98" y="165.0" width="2.3" height="18.8" fill="#8e8e8e" stroke="#3a3a3a" stroke-width="0.5"/>
<path d="M652.14 150.0V168.8" stroke="#000" stroke-opacity="0.78" stroke-width="1.05"/>
<rect x="650.99" y="165.0" width="2.3" height="2.5" fill="#8e8e8e" stroke="#3a3a3a" stroke-width="0.5"/>
<path d="M655.15 137.5V163.8" stroke="#000" stroke-opacity="0.78" stroke-width="1.05"/>
<rect x="654.0" y="148.8" width="2.3" height="13.7" fill="#8e8e8e" stroke="#3a3a3a" stroke-width="0.5"/>
<path d="M658.16 143.8V187.5" stroke="#000" stroke-opacity="0.78" stroke-width="1.05"/>
<rect x="657.01" y="145.0" width="2.3" height="33.8" fill="#000"/>
<path d="M661.17 172.5V220.0" stroke="#000" stroke-opacity="0.78" stroke-width="1.05"/>
<rect x="660.02" y="173.8" width="2.3" height="45.0" fill="#000"/>
<path d="M664.18 182.5V232.5" stroke="#000" stroke-opacity="0.78" stroke-width="1.05"/>
<rect x="663.03" y="183.8" width="2.3" height="38.7" fill="#000"/>
<path d="M667.19 183.8V196.2" stroke="#000" stroke-opacity="0.78" stroke-width="1.05"/>
<rect x="666.04" y="187.5" width="2.3" height="7.5" fill="#8e8e8e" stroke="#3a3a3a" stroke-width="0.5"/>
<path d="M670.2 192.5V220.0" stroke="#000" stroke-opacity="0.78" stroke-width="1.05"/>
<rect x="669.05" y="193.8" width="2.3" height="6.2" fill="#8e8e8e" stroke="#3a3a3a" stroke-width="0.5"/>
<path d="M673.21 191.2V210.0" stroke="#000" stroke-opacity="0.78" stroke-width="1.05"/>
<rect x="672.06" y="196.2" width="2.3" height="12.6" fill="#8e8e8e" stroke="#3a3a3a" stroke-width="0.5"/>
<path d="M676.22 175.0V203.8" stroke="#000" stroke-opacity="0.78" stroke-width="1.05"/>
<rect x="675.07" y="176.2" width="2.3" height="21.3" fill="#8e8e8e" stroke="#3a3a3a" stroke-width="0.5"/>
<path d="M679.22 165.0V196.2" stroke="#000" stroke-opacity="0.78" stroke-width="1.05"/>
<rect x="678.07" y="170.0" width="2.3" height="25.0" fill="#000"/>
<path d="M682.23 183.8V198.8" stroke="#000" stroke-opacity="0.78" stroke-width="1.05"/>
<rect x="681.08" y="185.0" width="2.3" height="8.8" fill="#000"/>
<path d="M685.24 178.8V193.8" stroke="#000" stroke-opacity="0.78" stroke-width="1.05"/>
<rect x="684.09" y="186.2" width="2.3" height="5.0" fill="#8e8e8e" stroke="#3a3a3a" stroke-width="0.5"/>
<path d="M688.25 178.8V191.2" stroke="#000" stroke-opacity="0.78" stroke-width="1.05"/>
<rect x="687.1" y="180.0" width="2.3" height="10.0" fill="#8e8e8e" stroke="#3a3a3a" stroke-width="0.5"/>
<path d="M691.26 168.8V193.8" stroke="#000" stroke-opacity="0.78" stroke-width="1.05"/>
<rect x="690.11" y="176.2" width="2.3" height="15.0" fill="#8e8e8e" stroke="#3a3a3a" stroke-width="0.5"/>
<path d="M694.27 172.5V196.2" stroke="#000" stroke-opacity="0.78" stroke-width="1.05"/>
<rect x="693.12" y="173.8" width="2.3" height="21.2" fill="#000"/>
<path d="M697.28 173.8V191.2" stroke="#000" stroke-opacity="0.78" stroke-width="1.05"/>
<rect x="696.13" y="176.2" width="2.3" height="13.8" fill="#8e8e8e" stroke="#3a3a3a" stroke-width="0.5"/>
<path d="M700.29 162.5V188.8" stroke="#000" stroke-opacity="0.78" stroke-width="1.05"/>
<rect x="699.14" y="171.2" width="2.3" height="16.3" fill="#000"/>
<path d="M703.3 156.2V180.0" stroke="#000" stroke-opacity="0.78" stroke-width="1.05"/>
<rect x="702.15" y="166.2" width="2.3" height="12.6" fill="#8e8e8e" stroke="#3a3a3a" stroke-width="0.5"/>
<path d="M706.31 160.0V196.2" stroke="#000" stroke-opacity="0.78" stroke-width="1.05"/>
<rect x="705.16" y="161.2" width="2.3" height="12.6" fill="#000"/>
<path d="M709.32 155.0V181.2" stroke="#000" stroke-opacity="0.78" stroke-width="1.05"/>
<rect x="708.17" y="156.2" width="2.3" height="20.0" fill="#8e8e8e" stroke="#3a3a3a" stroke-width="0.5"/>
<path d="M712.32 151.2V172.5" stroke="#000" stroke-opacity="0.78" stroke-width="1.05"/>
<rect x="711.17" y="152.5" width="2.3" height="10.0" fill="#000"/>
<path d="M715.33 131.2V166.2" stroke="#000" stroke-opacity="0.78" stroke-width="1.05"/>
<rect x="714.18" y="132.5" width="2.3" height="28.7" fill="#8e8e8e" stroke="#3a3a3a" stroke-width="0.5"/>
<path d="M718.34 126.2V150.0" stroke="#000" stroke-opacity="0.78" stroke-width="1.05"/>
<rect x="717.19" y="128.8" width="2.3" height="5.0" fill="#000"/>
<path d="M721.35 123.8V140.0" stroke="#000" stroke-opacity="0.78" stroke-width="1.05"/>
<rect x="720.2" y="130.0" width="2.3" height="8.8" fill="#000"/>
<path d="M724.36 128.8V158.8" stroke="#000" stroke-opacity="0.78" stroke-width="1.05"/>
<rect x="723.21" y="131.2" width="2.3" height="22.6" fill="#000"/>
<path d="M727.37 137.5V152.5" stroke="#000" stroke-opacity="0.78" stroke-width="1.05"/>
<rect x="726.22" y="141.2" width="2.3" height="3.0" fill="#ddd" stroke="#111" stroke-width="0.7"/>
<path d="M730.38 126.2V143.8" stroke="#000" stroke-opacity="0.78" stroke-width="1.05"/>
<rect x="729.23" y="127.5" width="2.3" height="11.3" fill="#8e8e8e" stroke="#3a3a3a" stroke-width="0.5"/>
<path d="M733.39 120.0V137.5" stroke="#000" stroke-opacity="0.78" stroke-width="1.05"/>
<rect x="732.24" y="121.2" width="2.3" height="15.0" fill="#8e8e8e" stroke="#3a3a3a" stroke-width="0.5"/>
<path d="M736.4 98.8V117.5" stroke="#000" stroke-opacity="0.78" stroke-width="1.05"/>
<rect x="735.25" y="100.0" width="2.3" height="16.2" fill="#8e8e8e" stroke="#3a3a3a" stroke-width="0.5"/>
<path d="M739.4 75.0V102.5" stroke="#000" stroke-opacity="0.78" stroke-width="1.05"/>
<rect x="738.25" y="77.5" width="2.3" height="18.7" fill="#8e8e8e" stroke="#3a3a3a" stroke-width="0.5"/>
<path d="M742.41 80.0V102.5" stroke="#000" stroke-opacity="0.78" stroke-width="1.05"/>
<rect x="741.26" y="87.5" width="2.3" height="11.3" fill="#000"/>
<path d="M745.42 81.2V93.8" stroke="#000" stroke-opacity="0.78" stroke-width="1.05"/>
<rect x="744.27" y="87.5" width="2.3" height="5.0" fill="#8e8e8e" stroke="#3a3a3a" stroke-width="0.5"/>
<path d="M748.43 73.8V96.2" stroke="#000" stroke-opacity="0.78" stroke-width="1.05"/>
<rect x="747.28" y="75.0" width="2.3" height="15.0" fill="#8e8e8e" stroke="#3a3a3a" stroke-width="0.5"/>
<path d="M751.44 65.0V92.5" stroke="#000" stroke-opacity="0.78" stroke-width="1.05"/>
<rect x="750.29" y="73.8" width="2.3" height="17.4" fill="#8e8e8e" stroke="#3a3a3a" stroke-width="0.5"/>
<path d="M754.45 78.8V91.2" stroke="#000" stroke-opacity="0.78" stroke-width="1.05"/>
<rect x="753.3" y="80.0" width="2.3" height="10.0" fill="#000"/>
<path d="M757.46 85.0V95.0" stroke="#000" stroke-opacity="0.78" stroke-width="1.05"/>
<rect x="756.31" y="86.2" width="2.3" height="7.6" fill="#8e8e8e" stroke="#3a3a3a" stroke-width="0.5"/>
<path d="M760.47 80.0V96.2" stroke="#000" stroke-opacity="0.78" stroke-width="1.05"/>
<rect x="759.32" y="81.2" width="2.3" height="10.0" fill="#8e8e8e" stroke="#3a3a3a" stroke-width="0.5"/>
<path d="M763.48 77.5V97.5" stroke="#000" stroke-opacity="0.78" stroke-width="1.05"/>
<rect x="762.33" y="78.8" width="2.3" height="12.4" fill="#8e8e8e" stroke="#3a3a3a" stroke-width="0.5"/>
<path d="M766.49 77.5V92.5" stroke="#000" stroke-opacity="0.78" stroke-width="1.05"/>
<rect x="765.34" y="80.0" width="2.3" height="11.2" fill="#000"/>
<path d="M769.49 85.0V122.5" stroke="#000" stroke-opacity="0.78" stroke-width="1.05"/>
<rect x="768.34" y="87.5" width="2.3" height="33.7" fill="#000"/>
<path d="M772.5 112.5V137.5" stroke="#000" stroke-opacity="0.78" stroke-width="1.05"/>
<rect x="771.35" y="113.8" width="2.3" height="16.2" fill="#8e8e8e" stroke="#3a3a3a" stroke-width="0.5"/>
<path d="M775.51 106.2V127.5" stroke="#000" stroke-opacity="0.78" stroke-width="1.05"/>
<rect x="774.36" y="108.8" width="2.3" height="4.2" fill="#8e8e8e" stroke="#3a3a3a" stroke-width="0.5"/>
<path d="M778.52 107.5V127.5" stroke="#000" stroke-opacity="0.78" stroke-width="1.05"/>
<rect x="777.37" y="112.5" width="2.3" height="3.0" fill="#ddd" stroke="#111" stroke-width="0.7"/>
<path d="M781.53 102.5V138.8" stroke="#000" stroke-opacity="0.78" stroke-width="1.05"/>
<rect x="780.38" y="106.2" width="2.3" height="31.3" fill="#000"/>
<path d="M784.54 120.0V155.0" stroke="#000" stroke-opacity="0.78" stroke-width="1.05"/>
<rect x="783.39" y="121.2" width="2.3" height="20.0" fill="#000"/>
<path d="M787.55 133.8V161.2" stroke="#000" stroke-opacity="0.78" stroke-width="1.05"/>
<rect x="786.4" y="135.0" width="2.3" height="6.8" fill="#000"/>
<path d="M790.56 146.2V165.0" stroke="#000" stroke-opacity="0.78" stroke-width="1.05"/>
<rect x="789.41" y="148.8" width="2.3" height="4.2" fill="#000"/>
<path d="M793.57 138.8V161.2" stroke="#000" stroke-opacity="0.78" stroke-width="1.05"/>
<rect x="792.42" y="148.8" width="2.3" height="4.2" fill="#8e8e8e" stroke="#3a3a3a" stroke-width="0.5"/>
<path d="M796.58 128.8V160.0" stroke="#000" stroke-opacity="0.78" stroke-width="1.05"/>
<rect x="795.43" y="130.0" width="2.3" height="15.0" fill="#8e8e8e" stroke="#3a3a3a" stroke-width="0.5"/>
<path d="M799.58 123.8V138.8" stroke="#000" stroke-opacity="0.78" stroke-width="1.05"/>
<rect x="798.43" y="131.2" width="2.3" height="6.3" fill="#000"/>
<path d="M802.59 137.5V152.5" stroke="#000" stroke-opacity="0.78" stroke-width="1.05"/>
<rect x="801.44" y="138.8" width="2.3" height="5.4" fill="#8e8e8e" stroke="#3a3a3a" stroke-width="0.5"/>
<path d="M805.6 135.0V146.2" stroke="#000" stroke-opacity="0.78" stroke-width="1.05"/>
<rect x="804.45" y="136.2" width="2.3" height="8.8" fill="#8e8e8e" stroke="#3a3a3a" stroke-width="0.5"/>
<path d="M808.61 130.0V148.8" stroke="#000" stroke-opacity="0.78" stroke-width="1.05"/>
<rect x="807.46" y="131.2" width="2.3" height="5.6" fill="#000"/>
<path d="M811.62 130.0V141.2" stroke="#000" stroke-opacity="0.78" stroke-width="1.05"/>
<rect x="810.47" y="132.5" width="2.3" height="4.3" fill="#000"/>
<path d="M814.63 125.0V137.5" stroke="#000" stroke-opacity="0.78" stroke-width="1.05"/>
<rect x="813.48" y="132.0" width="2.3" height="3.0" fill="#000"/>
<path d="M817.64 122.5V137.5" stroke="#000" stroke-opacity="0.78" stroke-width="1.05"/>
<rect x="816.49" y="123.8" width="2.3" height="7.4" fill="#8e8e8e" stroke="#3a3a3a" stroke-width="0.5"/>
<path d="M820.65 122.5V140.0" stroke="#000" stroke-opacity="0.78" stroke-width="1.05"/>
<rect x="819.5" y="123.8" width="2.3" height="7.4" fill="#8e8e8e" stroke="#3a3a3a" stroke-width="0.5"/>
<path d="M823.66 125.0V143.8" stroke="#000" stroke-opacity="0.78" stroke-width="1.05"/>
<rect x="822.51" y="130.0" width="2.3" height="8.8" fill="#000"/>
<path d="M826.67 117.5V136.2" stroke="#000" stroke-opacity="0.78" stroke-width="1.05"/>
<rect x="825.52" y="123.8" width="2.3" height="7.4" fill="#8e8e8e" stroke="#3a3a3a" stroke-width="0.5"/>
<path d="M829.68 117.5V135.0" stroke="#000" stroke-opacity="0.78" stroke-width="1.05"/>
<rect x="828.53" y="122.0" width="2.3" height="3.5" fill="#8e8e8e" stroke="#3a3a3a" stroke-width="0.5"/>
<path d="M832.68 111.2V121.2" stroke="#000" stroke-opacity="0.78" stroke-width="1.05"/>
<rect x="831.53" y="115.0" width="2.3" height="5.0" fill="#ddd" stroke="#111" stroke-width="0.7"/>
<path d="M835.69 100.0V112.5" stroke="#000" stroke-opacity="0.78" stroke-width="1.05"/>
<rect x="834.54" y="101.2" width="2.3" height="10.0" fill="#8e8e8e" stroke="#3a3a3a" stroke-width="0.5"/>
<path d="M838.7 100.0V110.0" stroke="#000" stroke-opacity="0.78" stroke-width="1.05"/>
<rect x="837.55" y="101.2" width="2.3" height="7.6" fill="#8e8e8e" stroke="#3a3a3a" stroke-width="0.5"/>
<path d="M841.71 100.0V112.5" stroke="#000" stroke-opacity="0.78" stroke-width="1.05"/>
<rect x="840.56" y="105.0" width="2.3" height="6.2" fill="#000"/>
<path d="M844.72 111.2V138.8" stroke="#000" stroke-opacity="0.78" stroke-width="1.05"/>
<rect x="843.57" y="112.5" width="2.3" height="22.5" fill="#000"/>
<path d="M847.73 127.5V140.0" stroke="#000" stroke-opacity="0.78" stroke-width="1.05"/>
<rect x="846.58" y="128.8" width="2.3" height="4.2" fill="#8e8e8e" stroke="#3a3a3a" stroke-width="0.5"/>
<path d="M850.74 128.8V145.0" stroke="#000" stroke-opacity="0.78" stroke-width="1.05"/>
<rect x="849.59" y="131.2" width="2.3" height="12.6" fill="#000"/>
<path d="M853.75 141.2V170.0" stroke="#000" stroke-opacity="0.78" stroke-width="1.05"/>
<rect x="852.6" y="142.5" width="2.3" height="22.5" fill="#000"/>
<path d="M856.76 131.2V170.0" stroke="#000" stroke-opacity="0.78" stroke-width="1.05"/>
<rect x="855.61" y="132.5" width="2.3" height="33.7" fill="#8e8e8e" stroke="#3a3a3a" stroke-width="0.5"/>
<path d="M859.76 128.8V137.5" stroke="#000" stroke-opacity="0.78" stroke-width="1.05"/>
<rect x="858.61" y="130.0" width="2.3" height="6.2" fill="#8e8e8e" stroke="#3a3a3a" stroke-width="0.5"/>
<path d="M862.77 120.0V135.0" stroke="#000" stroke-opacity="0.78" stroke-width="1.05"/>
<rect x="861.62" y="125.8" width="2.3" height="3.4" fill="#8e8e8e" stroke="#3a3a3a" stroke-width="0.5"/>
<path d="M865.78 122.5V147.5" stroke="#000" stroke-opacity="0.78" stroke-width="1.05"/>
<rect x="864.63" y="123.8" width="2.3" height="12.4" fill="#000"/>
<path d="M868.79 117.5V136.2" stroke="#000" stroke-opacity="0.78" stroke-width="1.05"/>
<rect x="867.64" y="122.5" width="2.3" height="12.5" fill="#8e8e8e" stroke="#3a3a3a" stroke-width="0.5"/>
<path d="M871.8 126.2V140.0" stroke="#000" stroke-opacity="0.78" stroke-width="1.05"/>
<rect x="870.65" y="128.2" width="2.3" height="3.6" fill="#000"/>
<path d="M874.81 120.0V131.2" stroke="#000" stroke-opacity="0.78" stroke-width="1.05"/>
<rect x="873.66" y="127.0" width="2.3" height="3.2" fill="#000"/>
<path d="M877.82 120.0V130.0" stroke="#000" stroke-opacity="0.78" stroke-width="1.05"/>
<rect x="876.67" y="122.5" width="2.3" height="6.3" fill="#000"/>
<path d="M880.83 126.2V152.5" stroke="#000" stroke-opacity="0.78" stroke-width="1.05"/>
<rect x="879.68" y="127.5" width="2.3" height="15.0" fill="#000"/>
<path d="M883.84 140.0V167.5" stroke="#000" stroke-opacity="0.78" stroke-width="1.05"/>
<rect x="882.69" y="141.2" width="2.3" height="12.6" fill="#000"/>
<path d="M886.85 140.0V168.8" stroke="#000" stroke-opacity="0.78" stroke-width="1.05"/>
<rect x="885.7" y="147.5" width="2.3" height="12.5" fill="#000"/>
<path d="M889.85 146.2V172.5" stroke="#000" stroke-opacity="0.78" stroke-width="1.05"/>
<rect x="888.7" y="147.5" width="2.3" height="6.3" fill="#8e8e8e" stroke="#3a3a3a" stroke-width="0.5"/>
<path d="M892.86 136.2V150.0" stroke="#000" stroke-opacity="0.78" stroke-width="1.05"/>
<rect x="891.71" y="137.5" width="2.3" height="10.0" fill="#8e8e8e" stroke="#3a3a3a" stroke-width="0.5"/>
<path d="M895.87 106.2V141.2" stroke="#000" stroke-opacity="0.78" stroke-width="1.05"/>
<rect x="894.72" y="123.8" width="2.3" height="16.2" fill="#8e8e8e" stroke="#3a3a3a" stroke-width="0.5"/>
<path d="M898.88 117.5V132.5" stroke="#000" stroke-opacity="0.78" stroke-width="1.05"/>
<rect x="897.73" y="120.8" width="2.3" height="3.4" fill="#ddd" stroke="#111" stroke-width="0.7"/>
<rect x="473.46" y="428" width="2.3" height="3.9" fill="#35d5e8" fill-opacity="0.85"/>
<rect x="497.53" y="428" width="2.3" height="3.9" fill="#35d5e8" fill-opacity="0.85"/>
<rect x="500.54" y="428" width="2.3" height="2.0" fill="#35d5e8" fill-opacity="0.85"/>
<rect x="750.89" y="65.0" width="1.1" height="2.1" fill="#35d5e8" fill-opacity="0.85"/>
<rect x="790.01" y="162.7" width="1.1" height="2.3" fill="#35d5e8" fill-opacity="0.85"/>
<rect x="852.6" y="162.7" width="2.3" height="3.7" fill="#35d5e8" fill-opacity="0.85"/>
<rect x="855.61" y="162.7" width="2.3" height="3.7" fill="#35d5e8" fill-opacity="0.85"/>
<rect x="883.29" y="162.7" width="1.1" height="3.7" fill="#35d5e8" fill-opacity="0.85"/>
<rect x="886.3" y="162.7" width="1.1" height="3.7" fill="#35d5e8" fill-opacity="0.85"/>
<rect x="889.3" y="162.7" width="1.1" height="3.7" fill="#35d5e8" fill-opacity="0.85"/>
</g>
<path d="M0 260C1.3 260.0 5.7 259.7 8 260C10.3 260.3 12.0 261.8 14 262C16.0 262.2 18.0 261.7 20 261C22.0 260.3 23.7 259.2 26 258C28.3 256.8 31.3 254.8 34 254C36.7 253.2 39.3 253.5 42 253C44.7 252.5 47.3 251.5 50 251C52.7 250.5 55.3 249.8 58 250C60.7 250.2 63.7 251.2 66 252C68.3 252.8 69.7 254.2 72 255C74.3 255.8 77.3 256.2 80 257C82.7 257.8 85.7 259.2 88 260C90.3 260.8 92.0 262.0 94 262C96.0 262.0 97.7 260.7 100 260C102.3 259.3 105.3 259.0 108 258C110.7 257.0 113.3 255.2 116 254C118.7 252.8 121.3 251.8 124 251C126.7 250.2 129.3 249.5 132 249C134.7 248.5 137.3 248.7 140 248C142.7 247.3 145.3 246.0 148 245C150.7 244.0 153.3 242.8 156 242C158.7 241.2 161.3 241.0 164 240C166.7 239.0 169.3 237.3 172 236C174.7 234.7 177.3 233.3 180 232C182.7 230.7 185.7 229.0 188 228C190.3 227.0 192.2 226.5 194 226C195.8 225.5 197.2 224.8 199 225C200.8 225.2 203.0 226.5 205 227C207.0 227.5 209.0 227.2 211 228C213.0 228.8 214.7 230.5 217 232C219.3 233.5 222.0 235.5 225 237C228.0 238.5 231.7 240.2 235 241C238.3 241.8 241.7 241.5 245 242C248.3 242.5 251.7 243.0 255 244C258.3 245.0 262.3 246.8 265 248C267.7 249.2 269.0 250.5 271 251C273.0 251.5 275.0 251.2 277 251C279.0 250.8 280.8 250.6 283 250C285.2 249.4 287.7 248.0 290 247.5C292.3 247.0 294.5 246.6 297 247C299.5 247.4 302.5 248.7 305 250C307.5 251.3 309.5 253.5 312 255C314.5 256.5 317.0 258.2 320 259C323.0 259.8 326.7 259.8 330 260C333.3 260.2 336.7 259.5 340 260C343.3 260.5 346.7 261.8 350 263C353.3 264.2 356.7 265.8 360 267C363.3 268.2 366.7 268.3 370 270C373.3 271.7 376.7 274.8 380 277C383.3 279.2 387.2 281.2 390 283C392.8 284.8 394.5 286.8 397 288C399.5 289.2 402.0 288.8 405 290C408.0 291.2 411.7 293.3 415 295C418.3 296.7 422.2 298.5 425 300C427.8 301.5 429.5 302.3 432 304C434.5 305.7 437.5 307.8 440 310C442.5 312.2 444.5 314.5 447 317C449.5 319.5 452.5 322.5 455 325C457.5 327.5 459.5 329.3 462 332C464.5 334.7 467.5 338.2 470 341C472.5 343.8 474.5 346.7 477 349C479.5 351.3 482.5 353.2 485 355C487.5 356.8 489.5 358.3 492 360C494.5 361.7 497.5 363.5 500 365C502.5 366.5 504.7 368.0 507 369C509.3 370.0 511.8 371.1 514 371C516.2 370.9 518.2 369.3 520 368.5C521.8 367.7 523.0 366.8 525 366C527.0 365.2 529.5 364.7 532 364C534.5 363.3 537.5 362.8 540 362C542.5 361.2 544.5 360.3 547 359C549.5 357.7 552.5 355.7 555 354C557.5 352.3 559.5 350.3 562 349C564.5 347.7 567.8 346.7 570 346C572.2 345.3 573.0 346.2 575 345C577.0 343.8 579.5 340.8 582 339C584.5 337.2 587.5 336.0 590 334C592.5 332.0 594.5 329.2 597 327C599.5 324.8 602.5 322.7 605 321C607.5 319.3 609.5 318.5 612 317C614.5 315.5 617.5 313.7 620 312C622.5 310.3 624.5 309.0 627 307C629.5 305.0 632.8 302.2 635 300C637.2 297.8 637.8 297.0 640 294C642.2 291.0 645.3 286.0 648 282C650.7 278.0 654.0 272.5 656 270C658.0 267.5 658.0 268.8 660 267C662.0 265.2 665.3 261.5 668 259C670.7 256.5 673.3 254.2 676 252C678.7 249.8 681.3 248.2 684 246C686.7 243.8 689.3 241.0 692 239C694.7 237.0 696.7 237.0 700 234C703.3 231.0 707.4 224.8 712 221C716.6 217.2 723.8 214.7 727.8 211C731.8 207.3 733.1 202.9 735.8 198.9C738.4 194.9 741.2 190.3 743.7 187C746.2 183.7 748.3 181.6 750.5 179C752.7 176.4 754.7 173.9 756.8 171.4C758.9 168.9 760.9 166.1 763 164C765.1 161.9 767.3 160.2 769.4 158.8C771.5 157.4 773.6 156.4 775.7 155.6C777.8 154.8 779.2 154.5 782 154C784.8 153.5 789.0 153.0 792.5 152.5C796.0 152.0 799.5 151.6 803 150.8C806.5 150.1 810.0 148.8 813.5 148C817.0 147.2 820.8 146.5 824 145.7C827.2 144.9 829.7 143.9 832.5 143C835.3 142.1 838.2 141.0 841 140.5C843.8 140.0 845.8 140.2 849 140C852.2 139.8 857.3 139.7 860 139.5C862.7 139.3 863.0 139.3 865 139C867.0 138.7 869.5 137.8 872 137.5C874.5 137.2 877.5 136.8 880 137C882.5 137.2 884.7 138.7 887 139C889.3 139.3 892.2 139.2 894 139C895.8 138.8 897.3 137.8 898 137.5" fill="none" stroke="#0000ff" stroke-opacity="0.85" stroke-width="1"/>
<path d="M0 267C1.3 267.2 5.7 267.3 8 268C10.3 268.7 12.0 271.2 14 271C16.0 270.8 18.0 269.2 20 267C22.0 264.8 23.7 260.8 26 258C28.3 255.2 31.3 251.8 34 250C36.7 248.2 39.3 247.8 42 247C44.7 246.2 47.3 245.3 50 245C52.7 244.7 55.3 244.5 58 245C60.7 245.5 63.7 246.5 66 248C68.3 249.5 69.7 251.7 72 254C74.3 256.3 77.3 259.8 80 262C82.7 264.2 85.8 265.7 88 267C90.2 268.3 91.3 270.0 93 270C94.7 270.0 96.8 267.7 98 267C99.2 266.3 98.3 267.7 100 266C101.7 264.3 105.3 259.3 108 257C110.7 254.7 113.3 254.0 116 252C118.7 250.0 121.3 247.0 124 245C126.7 243.0 129.8 241.0 132 240C134.2 239.0 135.5 238.8 137 239C138.5 239.2 139.2 241.3 141 241C142.8 240.7 145.5 238.3 148 237C150.5 235.7 153.3 234.2 156 233C158.7 231.8 161.7 231.3 164 230C166.3 228.7 168.0 227.0 170 225C172.0 223.0 173.7 220.2 176 218C178.3 215.8 181.7 213.7 184 212C186.3 210.3 188.5 208.8 190 208C191.5 207.2 191.5 206.8 193 207C194.5 207.2 197.0 207.8 199 209C201.0 210.2 203.0 212.5 205 214C207.0 215.5 209.0 215.3 211 218C213.0 220.7 215.0 226.7 217 230C219.0 233.3 221.0 235.7 223 238C225.0 240.3 227.0 242.3 229 244C231.0 245.7 232.7 247.3 235 248C237.3 248.7 240.7 248.0 243 248C245.3 248.0 247.0 247.3 249 248C251.0 248.7 253.0 250.5 255 252C257.0 253.5 259.0 255.2 261 257C263.0 258.8 265.3 261.8 267 263C268.7 264.2 269.3 264.2 271 264C272.7 263.8 275.0 263.2 277 262C279.0 260.8 281.3 258.3 283 257C284.7 255.7 285.2 255.3 287 254C288.8 252.7 292.3 250.0 294 249C295.7 248.0 295.2 247.0 297 248C298.8 249.0 302.5 252.3 305 255C307.5 257.7 310.0 261.2 312 264C314.0 266.8 314.8 270.5 317 272C319.2 273.5 322.8 272.8 325 273C327.2 273.2 328.0 273.5 330 273C332.0 272.5 334.5 270.2 337 270C339.5 269.8 342.5 271.5 345 272C347.5 272.5 349.5 271.8 352 273C354.5 274.2 357.5 277.2 360 279C362.5 280.8 364.5 281.8 367 284C369.5 286.2 372.5 289.5 375 292C377.5 294.5 379.5 296.8 382 299C384.5 301.2 387.5 303.2 390 305C392.5 306.8 394.5 308.5 397 310C399.5 311.5 402.0 312.8 405 314C408.0 315.2 411.7 316.2 415 317C418.3 317.8 422.2 317.8 425 319C427.8 320.2 429.5 321.8 432 324C434.5 326.2 437.5 328.3 440 332C442.5 335.7 444.5 341.8 447 346C449.5 350.2 452.5 354.0 455 357C457.5 360.0 460.0 362.3 462 364C464.0 365.7 464.8 364.3 467 367C469.2 369.7 472.5 376.5 475 380C477.5 383.5 479.5 385.7 482 388C484.5 390.3 487.5 392.0 490 394C492.5 396.0 494.5 398.3 497 400C499.5 401.7 502.5 404.0 505 404C507.5 404.0 510.0 402.0 512 400C514.0 398.0 514.8 394.8 517 392C519.2 389.2 522.5 385.7 525 383C527.5 380.3 529.5 378.3 532 376C534.5 373.7 537.5 371.8 540 369C542.5 366.2 544.5 362.7 547 359C549.5 355.3 552.5 350.7 555 347C557.5 343.3 559.5 339.7 562 337C564.5 334.3 567.8 332.3 570 331C572.2 329.7 573.0 330.8 575 329C577.0 327.2 579.5 322.8 582 320C584.5 317.2 587.5 314.7 590 312C592.5 309.3 594.5 306.5 597 304C599.5 301.5 602.5 298.7 605 297C607.5 295.3 609.5 295.5 612 294C614.5 292.5 617.0 290.7 620 288C623.0 285.3 627.3 281.3 630 278C632.7 274.7 634.0 272.0 636 268C638.0 264.0 640.0 259.0 642 254C644.0 249.0 646.0 243.0 648 238C650.0 233.0 652.3 227.2 654 224C655.7 220.8 656.3 220.5 658 219C659.7 217.5 661.7 216.3 664 215C666.3 213.7 669.3 212.5 672 211C674.7 209.5 677.3 207.5 680 206C682.7 204.5 685.7 203.2 688 202C690.3 200.8 692.0 200.0 694 199C696.0 198.0 697.8 197.8 700 196C702.2 194.2 704.8 190.8 707 188.5C709.2 186.2 711.3 184.4 713.5 182C715.7 179.6 717.9 176.1 720 174C722.1 171.9 723.9 171.5 726 169.4C728.1 167.3 730.4 164.6 732.6 161.4C734.8 158.2 736.9 154.0 739 150C741.1 146.0 742.8 141.2 745 137.5C747.2 133.8 749.7 130.7 752 127.5C754.3 124.3 757.2 120.8 759 118.5C760.8 116.2 761.7 114.7 763 113.6C764.3 112.5 765.2 112.1 767 112C768.8 111.9 771.4 112.5 773.6 113C775.8 113.5 777.9 113.8 780 115C782.1 116.2 783.9 118.3 786 120C788.1 121.7 790.3 123.7 792.5 125C794.7 126.3 796.9 127.1 799 128C801.1 128.9 802.9 129.9 805 130.4C807.1 130.9 809.4 130.9 811.5 131C813.6 131.1 815.7 130.9 817.8 131C819.9 131.1 821.9 131.8 824 131.5C826.1 131.2 828.3 130.5 830.4 129.4C832.5 128.3 834.6 126.1 836.7 125C838.8 123.9 841.0 123.0 843 123C845.0 123.0 846.9 124.2 849 125C851.1 125.8 853.8 127.2 855.6 128C857.4 128.8 858.1 129.8 860 130C861.9 130.2 864.5 129.2 867 129C869.5 128.8 872.8 128.8 875 129C877.2 129.2 878.3 129.2 880 130C881.7 130.8 883.3 133.0 885 134C886.7 135.0 888.3 135.8 890 136C891.7 136.2 893.7 135.3 895 135C896.3 134.7 897.5 134.2 898 134" fill="none" stroke="#ff0000" stroke-opacity="0.85" stroke-width="1"/>
<path d="M900 123.5H954" stroke="#ff5050" stroke-width="1"/>
<path d="M834.6 174.4L856.8 237.5" stroke="#222" stroke-width="1"/>
<rect x="798.5" y="237.5" width="124" height="30" fill="#fff" stroke="#303030" stroke-width="1"/>
<text x="813.8" y="257.8" font-weight="bold" font-size="19.5px" textLength="49.4" lengthAdjust="spacingAndGlyphs">yatay</text>
<text x="869.7" y="257.8" font-weight="bold" font-size="19.5px" textLength="38.8" lengthAdjust="spacingAndGlyphs">alan</text>
<text class="lab" x="164.6" y="152.6" textLength="39.2" lengthAdjust="spacingAndGlyphs">2.78</text>
<text class="lab" x="273.20000000000005" y="188" textLength="39.2" lengthAdjust="spacingAndGlyphs">2.66</text>
<text class="lab" x="387.6" y="466.2" textLength="39.2" lengthAdjust="spacingAndGlyphs">1.89</text>
<text class="lab" x="631.2" y="126" textLength="39.2" lengthAdjust="spacingAndGlyphs">2.92</text>
<text class="lab" x="682.6" y="114.6" textLength="39.2" lengthAdjust="spacingAndGlyphs">2.97</text>
<text class="lab" x="733.2" y="49" textLength="39.2" lengthAdjust="spacingAndGlyphs">3.17</text>
<text class="lab" x="820.6" y="95" textLength="39.2" lengthAdjust="spacingAndGlyphs">3.05</text>
<text class="lab" x="876.6" y="97" textLength="39.2" lengthAdjust="spacingAndGlyphs">3.03</text>
<text class="lab" x="781.6" y="190" textLength="39.2" lengthAdjust="spacingAndGlyphs">2.83</text>
<text class="lab" x="868.6" y="189" textLength="39.2" lengthAdjust="spacingAndGlyphs">2.80</text>
<text class="lab" x="694.6" y="220" textLength="39.2" lengthAdjust="spacingAndGlyphs">2.72</text>
<text class="lab" x="651.6" y="255" textLength="39.2" lengthAdjust="spacingAndGlyphs">2.60</text>
<text class="para" x="11.55" y="508.8" textLength="32.05" lengthAdjust="spacingAndGlyphs">şişe</text>
<text class="para" x="49.9" y="508.8" textLength="40.1" lengthAdjust="spacingAndGlyphs">cam</text>
<text class="para" x="95.55" y="508.8" textLength="5.05" lengthAdjust="spacingAndGlyphs">:</text>
<text class="para" x="105.55" y="508.8" textLength="20.05" lengthAdjust="spacingAndGlyphs">İyi</text>
<text class="para" x="131.2" y="508.8" textLength="69.4" lengthAdjust="spacingAndGlyphs">tutundu.</text>
<text class="para" x="206.2" y="508.8" textLength="72.4" lengthAdjust="spacingAndGlyphs">Satışlara</text>
<text class="para" x="285.55" y="508.8" textLength="65.65" lengthAdjust="spacingAndGlyphs">direndi.</text>
<text class="para" x="356.2" y="508.8" textLength="31.4" lengthAdjust="spacingAndGlyphs">Sarı</text>
<text class="para" x="393.05" y="508.8" textLength="54.55" lengthAdjust="spacingAndGlyphs">renkle</text>
<text class="para" x="453.05" y="508.8" textLength="84.55" lengthAdjust="spacingAndGlyphs">gösterilen</text>
<text class="para" x="543.7" y="508.8" textLength="37.5" lengthAdjust="spacingAndGlyphs">alan</text>
<text class="para" x="587.3" y="508.8" textLength="58.3" lengthAdjust="spacingAndGlyphs">içinde,</text>
<text class="para" x="651.8" y="508.8" textLength="76.8" lengthAdjust="spacingAndGlyphs">2.80-3.05</text>
<text class="para" x="734.9" y="508.8" textLength="88.7" lengthAdjust="spacingAndGlyphs">aralığında</text>
<text class="para" x="829.9" y="508.8" textLength="83.7" lengthAdjust="spacingAndGlyphs">geziniyor.</text>
<text class="para" x="11.8" y="530.3" textLength="123.2" lengthAdjust="spacingAndGlyphs">Ortalamaların</text>
<text class="para" x="139.9" y="530.3" textLength="53.7" lengthAdjust="spacingAndGlyphs">üstüne</text>
<text class="para" x="199.9" y="530.3" textLength="36.3" lengthAdjust="spacingAndGlyphs">çıktı</text>
<text class="para" x="241.8" y="530.3" textLength="71.3" lengthAdjust="spacingAndGlyphs">yeniden</text>
<text class="para" x="319.3" y="530.3" textLength="19.3" lengthAdjust="spacingAndGlyphs">ve</text>
<text class="para" x="344.3" y="530.3" textLength="33.3" lengthAdjust="spacingAndGlyphs">eski</text>
<text class="para" x="383.7" y="530.3" textLength="61.9" lengthAdjust="spacingAndGlyphs">tepeye</text>
<text class="para" x="451.8" y="530.3" textLength="54.4" lengthAdjust="spacingAndGlyphs">hamle</text>
<text class="para" x="511.8" y="530.3" textLength="78.8" lengthAdjust="spacingAndGlyphs">yapabilir</text>
<text class="para" x="596.3" y="530.3" textLength="20.3" lengthAdjust="spacingAndGlyphs">bu</text>
<text class="para" x="623.05" y="530.3" textLength="85.05" lengthAdjust="spacingAndGlyphs">durumda.</text>
<text class="para" x="713.7" y="530.3" textLength="33.9" lengthAdjust="spacingAndGlyphs">2.80</text>
<text class="para" x="753.7" y="530.3" textLength="58.9" lengthAdjust="spacingAndGlyphs">destek</text>
<text class="para" x="818.05" y="530.3" textLength="20.05" lengthAdjust="spacingAndGlyphs">ve</text>
<text class="para" x="843.7" y="530.3" textLength="42.9" lengthAdjust="spacingAndGlyphs">onun</text>
<text class="para" x="892.3" y="530.3" textLength="48.9" lengthAdjust="spacingAndGlyphs">altına</text>
<text class="para" x="11.55" y="551.3" textLength="69.05" lengthAdjust="spacingAndGlyphs">stoploss</text>
<text class="para" x="86.2" y="551.3" textLength="55.65" lengthAdjust="spacingAndGlyphs">olarak</text>
<text class="para" x="149.3" y="551.3" textLength="90.05" lengthAdjust="spacingAndGlyphs">bakılabilir.</text>
</svg></body></html>
